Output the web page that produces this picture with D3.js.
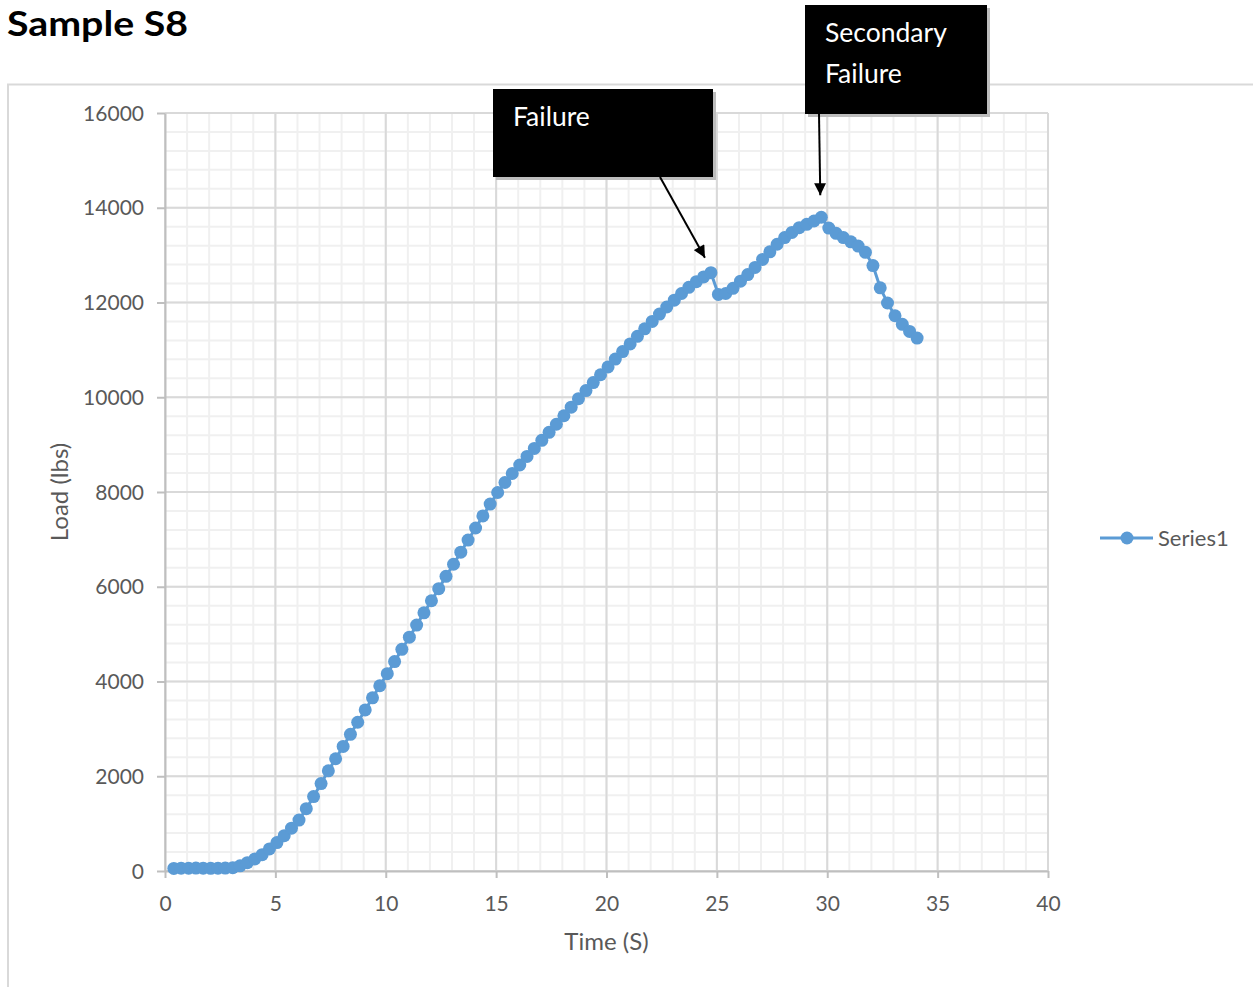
<!DOCTYPE html>
<html><head><meta charset="utf-8">
<script src="https://cdn.jsdelivr.net/npm/d3@7"></script>
<style>
body{margin:0;background:#fff;}
svg{display:block;font-family:Lato,"Open Sans",sans-serif;}
</style>
</head><body>
<svg id="c" width="1253" height="987"></svg>
<script>
// ---- data ----
const time = [0.40,0.73,1.07,1.40,1.73,2.07,2.40,2.73,3.07,3.40,
  3.73,4.07,4.40,4.73,5.07,5.40,5.73,6.07,6.40,6.73,
  7.07,7.40,7.73,8.07,8.40,8.73,9.07,9.40,9.73,10.07,
  10.40,10.73,11.07,11.40,11.73,12.07,12.40,12.73,13.07,13.40,
  13.73,14.07,14.40,14.73,15.07,15.40,15.73,16.07,16.40,16.73,
  17.07,17.40,17.73,18.07,18.40,18.73,19.07,19.40,19.73,20.07,
  20.40,20.73,21.07,21.40,21.73,22.07,22.40,22.73,23.07,23.40,
  23.73,24.07,24.40,24.73,25.07,25.40,25.73,26.07,26.40,26.73,
  27.07,27.40,27.73,28.07,28.40,28.73,29.07,29.40,29.73,30.07,
  30.40,30.73,31.07,31.40,31.73,32.07,32.40,32.73,33.07,33.40,
  33.73,34.07];
const load = [55,60,58,62,60,57,60,62,70,110,
  175,255,345,465,600,745,905,1075,1315,1570,
  1845,2115,2370,2630,2885,3140,3400,3655,3910,4165,
  4420,4680,4935,5190,5450,5705,5960,6220,6475,6730,
  6985,7240,7495,7745,7990,8200,8390,8570,8750,8920,
  9090,9260,9430,9610,9790,9970,10140,10310,10475,10640,
  10805,10965,11125,11285,11445,11600,11755,11905,12050,12190,
  12320,12440,12540,12630,12170,12190,12300,12450,12590,12740,
  12910,13070,13230,13370,13480,13580,13650,13720,13800,13570,
  13460,13370,13280,13190,13060,12780,12310,11990,11720,11540,
  11390,11250];
const xTicks = [0,5,10,15,20,25,30,35,40];
const yTicks = [0,2000,4000,6000,8000,10000,12000,14000,16000];
const xMinor = d3.range(0,41,1);
const yMinor = d3.range(0,16001,400);
const seriesName = "Series1";
const chartTitle = "Sample S8";
const xTitle = "Time (S)";
const yTitle = "Load (lbs)";
const failureLabel = ["Failure"];
const secondaryLabel = ["Secondary","Failure"];
const failureIndex = 73;     // point the "Failure" arrow points at
const secondaryIndex = 88;   // point the "Secondary Failure" arrow points at

// ---- drawing ----
const svg = d3.select("#c");
const x = d3.scaleLinear().domain([0,40]).range([165,1048]);
const y = d3.scaleLinear().domain([0,16000]).range([871,113]);
const blue = "#5B9BD5", textGray = "#595959";

// title
svg.append("text").attr("x",7).attr("y",36).attr("font-size",35).attr("font-weight",700)
  .attr("textLength",181).attr("lengthAdjust","spacingAndGlyphs")
  .attr("fill","#000").text(chartTitle);

// chart frame
svg.append("path").attr("d","M8,990V84.5H1256").attr("fill","none")
  .attr("stroke","#d9d9d9").attr("stroke-width",2);

// minor grid
const g = svg.append("g");
g.selectAll(".vm").data(xMinor).join("line")
  .attr("x1",d=>x(d)).attr("x2",d=>x(d)).attr("y1",y(16000)).attr("y2",y(0))
  .attr("stroke","#f0f0f0").attr("stroke-width",2);
g.selectAll(".hm").data(yMinor).join("line")
  .attr("y1",d=>y(d)).attr("y2",d=>y(d)).attr("x1",x(0)).attr("x2",x(40))
  .attr("stroke","#f0f0f0").attr("stroke-width",2);
// major grid
g.selectAll(".vM").data(xTicks).join("line")
  .attr("x1",d=>x(d)).attr("x2",d=>x(d)).attr("y1",y(16000)).attr("y2",y(0))
  .attr("stroke","#d9d9d9").attr("stroke-width",2);
g.selectAll(".hM").data(yTicks).join("line")
  .attr("y1",d=>y(d)).attr("y2",d=>y(d)).attr("x1",x(0)).attr("x2",x(40))
  .attr("stroke","#d9d9d9").attr("stroke-width",2);

// axes
const ax = svg.append("g").attr("transform",`translate(0,${y(0)})`)
  .call(d3.axisBottom(x).tickValues(xTicks).tickSize(7).tickSizeOuter(0).tickPadding(18).tickFormat(d3.format("d")));
const ay = svg.append("g").attr("transform",`translate(${x(0)},0)`)
  .call(d3.axisLeft(y).tickValues(yTicks).tickSize(8).tickSizeOuter(0).tickPadding(13).tickFormat(d3.format("d")));
[ax,ay].forEach(a=>{
  a.select(".domain").attr("stroke","#bfbfbf").attr("stroke-width",2);
  a.selectAll(".tick line").attr("stroke","#bfbfbf").attr("stroke-width",2);
  a.selectAll("text").attr("font-size",21).attr("fill",textGray).attr("font-family","Lato,sans-serif");
});
ay.selectAll("text").attr("dy","0.34em");

// axis titles
svg.append("text").attr("x",(x(0)+x(40))/2).attr("y",950).attr("text-anchor","middle")
  .attr("font-size",24).attr("fill",textGray).text(xTitle);
svg.append("text").attr("transform",`translate(68,${(y(0)+y(16000))/2}) rotate(-90)`)
  .attr("text-anchor","middle").attr("font-size",24).attr("fill",textGray).text(yTitle);

// series
const pts = time.map((t,i)=>[t,load[i]]);
svg.append("path").datum(pts)
  .attr("d",d3.line().x(d=>x(d[0])).y(d=>y(d[1])))
  .attr("fill","none").attr("stroke",blue).attr("stroke-width",3).attr("stroke-linejoin","round");
svg.append("g").selectAll("circle").data(pts).join("circle")
  .attr("cx",d=>x(d[0])).attr("cy",d=>y(d[1])).attr("r",6.5).attr("fill",blue);

// legend
const lg = svg.append("g").attr("transform","translate(1100,538)");
lg.append("line").attr("x1",0).attr("x2",53).attr("stroke",blue).attr("stroke-width",3);
lg.append("circle").attr("cx",27).attr("r",6.5).attr("fill",blue);
lg.append("text").attr("x",58).attr("y",8).attr("font-size",22).attr("fill",textGray).text(seriesName);

// annotations
const defs = svg.append("defs");
defs.append("marker").attr("id","ah").attr("viewBox","0 0 10 10").attr("refX",10).attr("refY",5)
  .attr("markerWidth",7).attr("markerHeight",6).attr("markerUnits","strokeWidth").attr("orient","auto")
  .append("path").attr("d","M0,0L10,5L0,10Z").attr("fill","#000");

function callout(bx,by,bw,bh,lines,lineY,fromX,fromY,toX,toY){
  svg.append("rect").attr("x",bx+3).attr("y",by+3).attr("width",bw).attr("height",bh).attr("fill","#bdbdbd");
  svg.append("rect").attr("x",bx).attr("y",by).attr("width",bw).attr("height",bh).attr("fill","#000");
  lines.forEach((s,i)=>svg.append("text").attr("x",bx+20).attr("y",lineY[i])
    .attr("font-size",26.5).attr("fill","#fff").text(s));
  svg.append("line").attr("x1",fromX).attr("y1",fromY).attr("x2",toX).attr("y2",toY)
    .attr("stroke","#000").attr("stroke-width",2).attr("marker-end","url(#ah)");
}
const fp = pts[failureIndex], sp = pts[secondaryIndex];
callout(493,89,220,88,failureLabel,[126],660,177,x(fp[0])-6,y(fp[1])-15);
callout(805,5,182,109,secondaryLabel,[42,83],819,114,x(sp[0])-1,y(sp[1])-22);
</script>
</body></html>
